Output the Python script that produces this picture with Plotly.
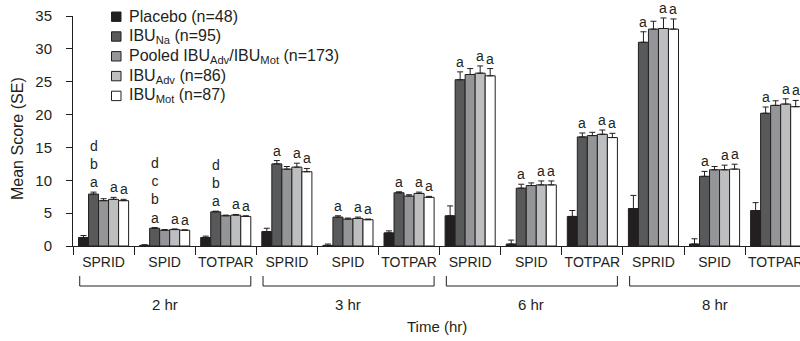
import plotly.graph_objects as go

# ---------------- data ----------------
measures = ["SPRID", "SPID", "TOTPAR"]
time_groups = ["2 hr", "3 hr", "6 hr", "8 hr"]
categories = measures * len(time_groups)

series_names = [
    "Placebo (n=48)",
    "IBU<sub>Na</sub> (n=95)",
    "Pooled IBU<sub>Adv</sub>/IBU<sub>Mot</sub> (n=173)",
    "IBU<sub>Adv</sub> (n=86)",
    "IBU<sub>Mot</sub> (n=87)",
]
series_colors = ["#231f20", "#58595b", "#939598", "#bcbec0", "#ffffff"]

placebo = [1.3, 0.1, 1.3, 2.2, 0.1, 2.0, 4.6, 0.3, 4.5, 5.7, 0.3, 5.4]
placebo_se = [0.3, 0.1, 0.2, 0.5, 0.2, 0.3, 1.5, 0.6, 0.9, 2.0, 0.8, 1.2]
ibu_na = [7.9, 2.7, 5.2, 12.5, 4.4, 8.1, 25.3, 8.8, 16.6, 31.0, 10.6, 20.2]
ibu_na_se = [0.3, 0.1, 0.1, 0.5, 0.2, 0.15, 1.2, 0.6, 0.6, 1.6, 0.75, 0.95]
pooled = [6.9, 2.4, 4.6, 11.7, 4.1, 7.6, 26.1, 9.2, 16.8, 33.0, 11.6, 21.4]
pooled_se = [0.3, 0.1, 0.1, 0.4, 0.15, 0.2, 0.9, 0.4, 0.5, 1.2, 0.5, 0.7]
ibu_adv = [7.1, 2.5, 4.7, 12.0, 4.2, 8.0, 26.3, 9.3, 17.0, 33.1, 11.6, 21.6]
ibu_adv_se = [0.3, 0.1, 0.1, 0.6, 0.2, 0.2, 1.1, 0.6, 0.65, 1.6, 0.7, 0.8]
ibu_mot = [6.9, 2.4, 4.5, 11.3, 4.0, 7.4, 25.9, 9.3, 16.5, 33.0, 11.7, 21.2]
ibu_mot_se = [0.2, 0.05, 0.1, 0.5, 0.1, 0.15, 1.1, 0.6, 0.65, 1.55, 0.75, 0.95]

# significance letters (per category) for IBU_Na, IBU_Adv, IBU_Mot
letters_na = ["d<br>b<br>a", "d<br>c<br>b<br>a", "d<br>b<br>a"] + ["a"] * 9
letters_adv = ["a"] * 12
letters_mot = ["a"] * 12

y_ticks = [0, 5, 10, 15, 20, 25, 30, 35]

values = [placebo, ibu_na, pooled, ibu_adv, ibu_mot]
errors = [placebo_se, ibu_na_se, pooled_se, ibu_adv_se, ibu_mot_se]
letters = [None, letters_na, None, letters_adv, letters_mot]

# ---------------- layout constants ----------------
W, H = 800, 341
ML, MR, MT, MB = 73, 0, 16, 95
cat_px = 61.1
plot_w = W - ML - MR
plot_h = H - MT - MB
x_pos = list(range(len(categories)))
x_range = [-0.5, -0.5 + plot_w / cat_px]
bargap = 0.18
nser = len(values)
bw = (1 - bargap) / nser
FONT = "Liberation Sans, Arial, sans-serif"
TXT = "#231f20"

def py2paper(py):
    return (H - MB - py) / plot_h

def px2paper(px):
    return (px - ML) / plot_w

fig = go.Figure()
for i in range(nser):
    fig.add_trace(go.Bar(
        x=x_pos, y=values[i], name=series_names[i],
        marker=dict(color=series_colors[i], line=dict(color="#231f20", width=1)),
        error_y=dict(type="data", array=errors[i], arrayminus=[0] * len(x_pos),
                     symmetric=False, color="#231f20", thickness=1, width=3),
        showlegend=False,
    ))

annotations = []
# significance letters
for i in range(nser):
    if letters[i] is None:
        continue
    off = (i - (nser - 1) / 2) * bw
    for k, lab in enumerate(letters[i]):
        annotations.append(dict(
            x=x_pos[k] + off, y=values[i][k] + errors[i][k], xref="x", yref="y",
            text=lab, showarrow=False, yanchor="bottom", xanchor="center",
            font=dict(family=FONT, size=14, color=TXT), yshift=0,
        ))

# group labels and brackets
shapes = []
n_meas = len(measures)
for g, name in enumerate(time_groups):
    x0 = g * n_meas - 0.5 + 0.11
    x1 = g * n_meas + n_meas - 0.5 - 0.09
    yt, yb = py2paper(276), py2paper(286)
    shapes.append(dict(type="path", xref="x", yref="paper",
                       path=f"M {x0},{yt} L {x0},{yb} L {x1},{yb} L {x1},{yt}",
                       line=dict(color="#231f20", width=1)))
    annotations.append(dict(x=g * n_meas + (n_meas - 1) / 2, y=py2paper(304),
                            xref="x", yref="paper", text=name, showarrow=False,
                            yanchor="middle", font=dict(family=FONT, size=15, color=TXT)))

# axis titles
annotations.append(dict(x=0.5, y=py2paper(326), xref="paper", yref="paper",
                        text="Time (hr)", showarrow=False, yanchor="middle",
                        font=dict(family=FONT, size=15, color=TXT)))
annotations.append(dict(x=px2paper(17), y=py2paper(139), xref="paper", yref="paper",
                        text="Mean Score (SE)", showarrow=False, textangle=-90,
                        xanchor="center", yanchor="middle",
                        font=dict(family=FONT, size=16, color=TXT)))

# manual legend
for i in range(nser):
    cy = 16.7 + 19.8 * i
    shapes.append(dict(type="rect", xref="paper", yref="paper",
                       x0=px2paper(111.5), x1=px2paper(121), y0=py2paper(cy - 4.7), y1=py2paper(cy + 4.7),
                       fillcolor=series_colors[i], line=dict(color="#231f20", width=1)))
    annotations.append(dict(x=px2paper(126.5), y=py2paper(cy), xref="paper", yref="paper",
                            text=series_names[i], showarrow=False, xanchor="left", yanchor="middle",
                            font=dict(family=FONT, size=16, color=TXT)))

fig.update_layout(
    width=W, height=H, margin=dict(l=ML, r=MR, t=MT, b=MB, autoexpand=False),
    paper_bgcolor="white", plot_bgcolor="white",
    barmode="group", bargap=bargap, bargroupgap=0,
    font=dict(family=FONT, color=TXT),
    xaxis=dict(range=x_range, tickmode="array", tickvals=x_pos, ticktext=categories,
               ticks="", showline=True, linecolor="#231f20", linewidth=1,
               showgrid=False, zeroline=False, ticklabelstandoff=3,
               ticklabeloverflow="allow",
               tickfont=dict(family=FONT, size=14, color=TXT)),
    xaxis2=dict(overlaying="x", matches="x", anchor="y", side="bottom",
                tickmode="array", tickvals=[v - 0.5 for v in x_pos] + [x_pos[-1] + 0.5],
                ticks="outside", ticklen=8, tickcolor="#231f20", tickwidth=1,
                showticklabels=False, showline=False, showgrid=False, zeroline=False),
    yaxis=dict(range=[0, 35], tickmode="array", tickvals=y_ticks, ticks="outside",
               ticklen=6, tickcolor="#231f20", showline=True, linecolor="#231f20",
               linewidth=1, showgrid=False, zeroline=False, ticklabelstandoff=11,
               tickfont=dict(family=FONT, size=15, color=TXT)),
    shapes=shapes, annotations=annotations,
)
# invisible trace so the separator-tick axis (xaxis2) is drawn
fig.add_trace(go.Scatter(x=[x_pos[0]], y=[0], xaxis="x2", yaxis="y", mode="markers",
                         marker=dict(opacity=0), showlegend=False, hoverinfo="skip"))

fig.write_html("out.html")
